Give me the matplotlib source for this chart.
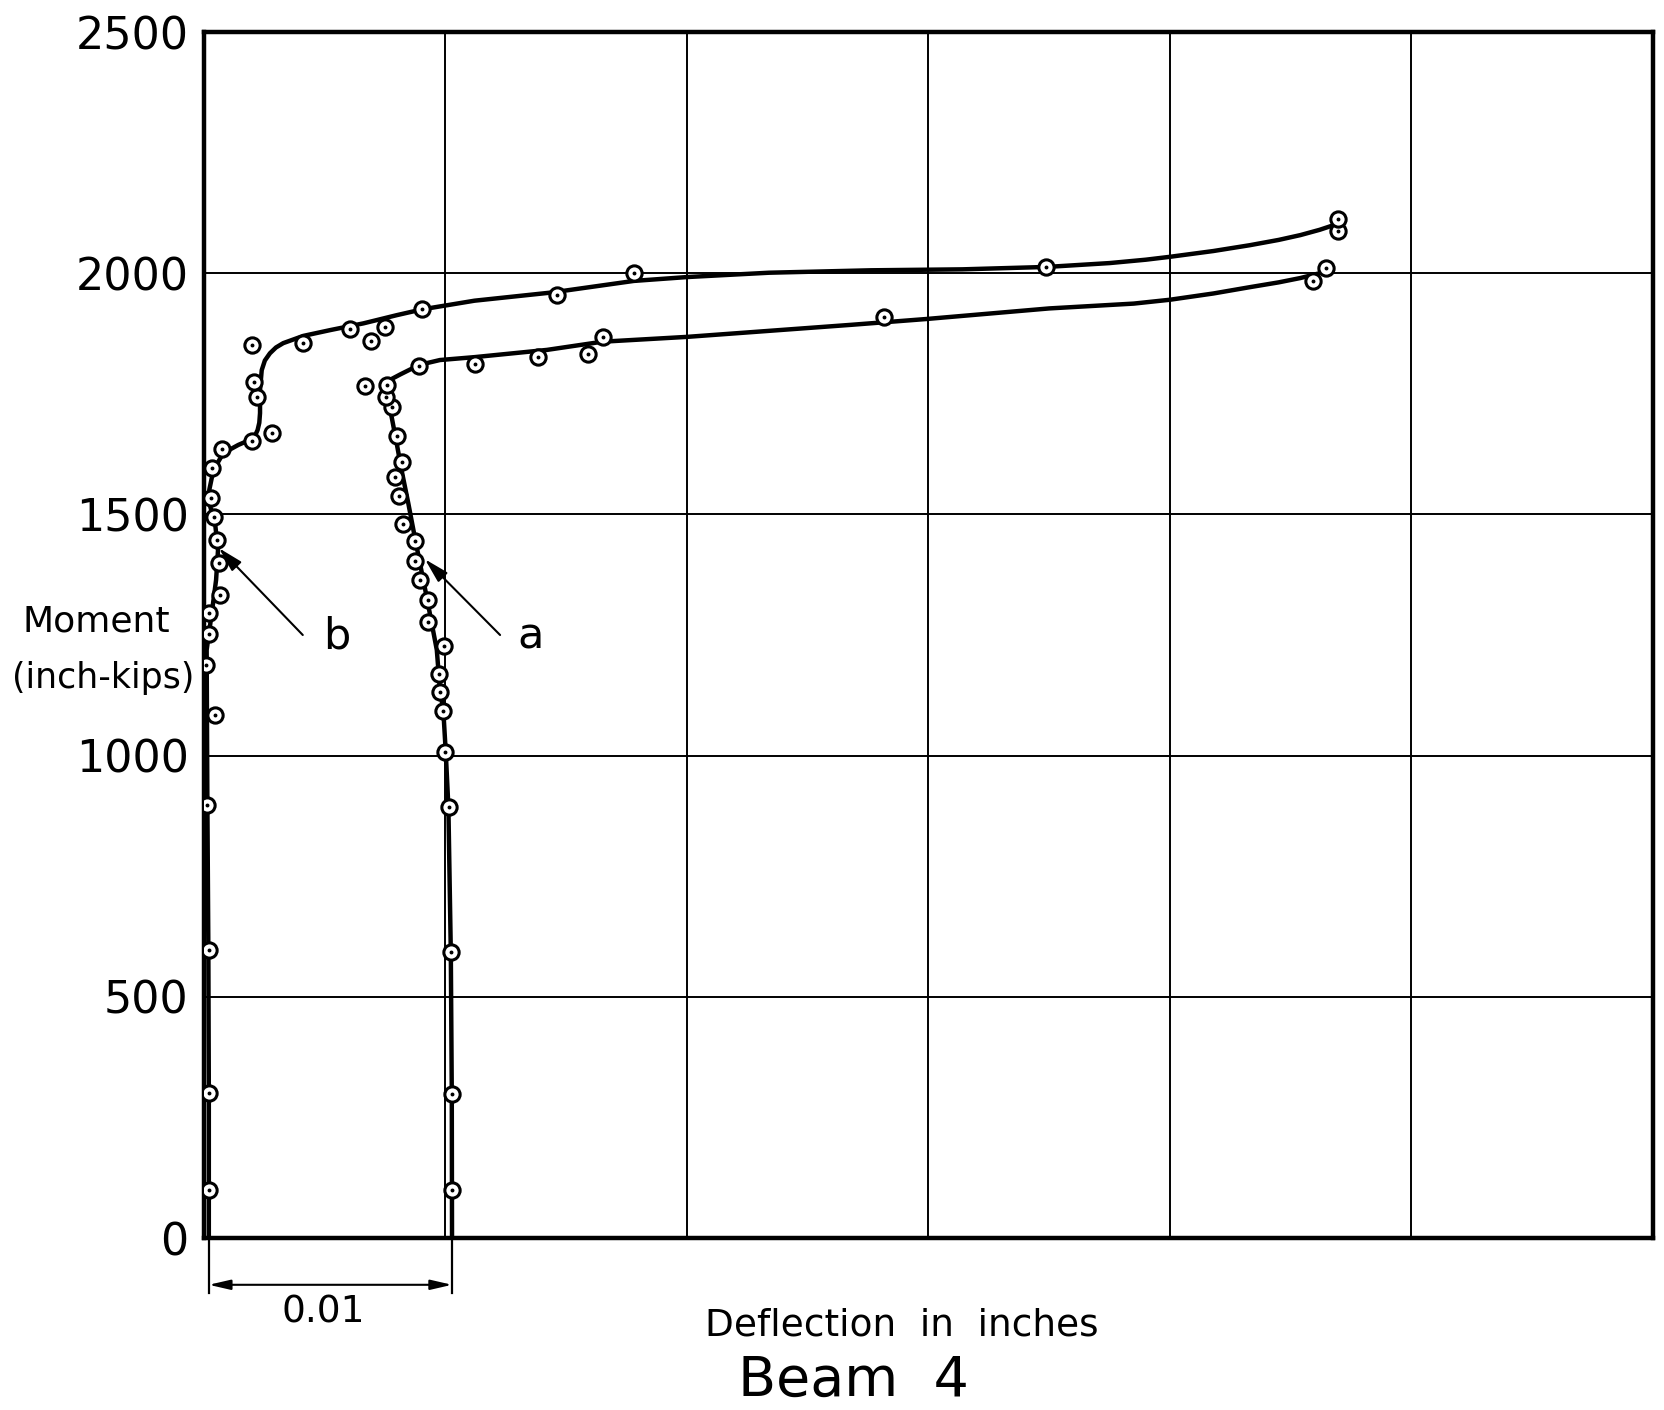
import matplotlib
matplotlib.use("Agg")
import matplotlib.pyplot as plt

# ---------------- data (deflection in inches, moment in inch-kips) ----------------
# curve b : measured points
b_defl = [0.0002, 0.0002, 0.0002, 0.00014, 0.00046, 0.00007, 0.00022, 0.00021, 0.00066,
          0.00062, 0.00055, 0.00041, 0.00028, 0.00032, 0.00073, 0.00199, 0.00283, 0.00221,
          0.00207, 0.00197, 0.00409, 0.00605, 0.0069, 0.0075, 0.00903, 0.0146, 0.0178,
          0.03487, 0.04694, 0.04697]
b_mom = [100, 301, 596, 898, 1084, 1188, 1252, 1296, 1333, 1399, 1447, 1495, 1533, 1596,
         1636, 1652, 1668, 1744, 1775, 1851, 1856, 1884, 1860, 1889, 1926, 1955, 2001,
         2012, 2087, 2113]

# curve a : measured points
a_defl = [0.01028, 0.01026, 0.01022, 0.01016, 0.00998, 0.00988, 0.00977, 0.00975, 0.00995,
          0.00929, 0.00929, 0.00894, 0.00874, 0.00874, 0.00825, 0.00807, 0.00791, 0.00821,
          0.00798, 0.0078, 0.00752, 0.00759, 0.00667, 0.00892, 0.01124, 0.01385, 0.01591,
          0.01651, 0.02817, 0.04594, 0.04645]
a_mom = [100, 298, 592, 893, 1008, 1093, 1132, 1169, 1227, 1276, 1323, 1364, 1403, 1445,
         1481, 1539, 1578, 1609, 1663, 1723, 1744, 1768, 1766, 1808, 1812, 1827, 1833,
         1868, 1910, 1984, 2010]

# faired (hand drawn) curves
b_line_defl = [0.0002, 0.0002, 0.00018, 0.00014, 0.00011, 0.00032, 0.0005, 0.00058, 0.00046,
               0.00022, 0.00022, 0.00039, 0.0008, 0.00142, 0.00197, 0.00212, 0.00222,
               0.00229, 0.00232, 0.00232, 0.00239, 0.00252, 0.00273, 0.00298, 0.00328,
               0.00411, 0.00522, 0.0066, 0.00798, 0.00903, 0.0112, 0.0144, 0.0178, 0.0200,
               0.0234, 0.0276, 0.0314, 0.0349, 0.0375, 0.0390, 0.0400, 0.0418, 0.0433,
               0.0445, 0.0454, 0.0462, 0.0468]
b_line_mom = [0, 300, 600, 900, 1219, 1295, 1364, 1426, 1481, 1523, 1551, 1592, 1627, 1644,
              1656, 1664, 1675, 1690, 1710, 1758, 1799, 1819, 1834, 1846, 1855, 1870, 1882,
              1896, 1913, 1925, 1943, 1960, 1984, 1992, 2001, 2006, 2008, 2013, 2021, 2028,
              2034, 2046, 2058, 2069, 2079, 2090, 2100]

a_line_defl = [0.01027, 0.01026, 0.01022, 0.01012, 0.01001, 0.00991, 0.00977, 0.00964,
               0.00943, 0.00922, 0.00894, 0.00867, 0.00846, 0.00818, 0.00798, 0.00777,
               0.00756, 0.00742, 0.00748, 0.00763, 0.00812, 0.00892, 0.00977, 0.0112,
               0.0142, 0.0165, 0.0200, 0.0268, 0.0299, 0.0350, 0.0385, 0.0400, 0.0418,
               0.0433, 0.0445, 0.0454, 0.0462]
a_line_mom = [0, 300, 592, 893, 1008, 1093, 1136, 1219, 1274, 1329, 1399, 1468, 1523, 1592,
              1647, 1702, 1744, 1765, 1771, 1777, 1790, 1810, 1820, 1826, 1841, 1858, 1868,
              1893, 1905, 1927, 1937, 1945, 1958, 1971, 1981, 1990, 2000]

y_ticks = [0, 500, 1000, 1500, 2000, 2500]
y_tick_labels = ["0", "500", "1000", "1500", "2000", "2500"]
x_grid = [0.0, 0.01, 0.02, 0.03, 0.04, 0.05, 0.06]

# ---------------- figure ----------------
W, H = 1665, 1410
fig = plt.figure(figsize=(W / 100, H / 100), dpi=100)
ax = fig.add_axes([204 / W, 1 - 1238 / H, 1449 / W, 1206 / H])
ax.set_xlim(0, 0.06)
ax.set_ylim(0, 2500)

ax.set_xticks(x_grid)
ax.set_xticklabels([])
ax.set_yticks(y_ticks)
ax.set_yticklabels(y_tick_labels, fontsize=32)
ax.tick_params(length=0, pad=11)
ax.grid(True, color="black", lw=1.4)
ax.set_axisbelow(True)
for s in ax.spines.values():
    s.set_linewidth(3.2)
    s.set_color("black")

line_kw = dict(color="black", lw=3.2, solid_capstyle="round", solid_joinstyle="round",
               zorder=3)
ax.plot(b_line_defl, b_line_mom, **line_kw)
ax.plot(a_line_defl, a_line_mom, **line_kw)

mk = dict(marker="o", ms=11, mfc="white", mec="black", mew=2.2, ls="none", zorder=4)
ax.plot(b_defl, b_mom, **mk)
ax.plot(a_defl, a_mom, **mk)
dot = dict(marker="o", ms=1.8, color="black", ls="none", zorder=5)
ax.plot(b_defl, b_mom, **dot)
ax.plot(a_defl, a_mom, **dot)

# labels a / b with arrows
arw = dict(arrowstyle="-|>,head_length=1.5,head_width=0.4", color="black", lw=1.5,
           shrinkA=0, shrinkB=0)
ax.annotate("", xy=(0.00062, 1430), xytext=(0.00409, 1250), arrowprops=arw, zorder=6)
ax.annotate("", xy=(0.00915, 1407), xytext=(0.01226, 1250), arrowprops=arw, zorder=6)
ax.text(0.00549, 1223, "b", fontsize=31, ha="center", va="baseline")
ax.text(0.01353, 1223, "a", fontsize=31, ha="center", va="baseline")

# dimension 0.01 below axis
x0, x1 = b_line_defl[0], a_line_defl[0]
for xx in (x0, x1):
    ax.plot([xx, xx], [0, -115], color="black", lw=1.6, clip_on=False)
ax.annotate("", xy=(x0, -97), xytext=(x1, -97),
            arrowprops=dict(arrowstyle="<|-|>,head_length=1.3,head_width=0.3",
                            color="black", lw=1.5, shrinkA=0, shrinkB=0),
            annotation_clip=False)
ax.text(0.00493, -155, "0.01", fontsize=27, ha="center", va="center")

# axis titles
fig.text(96 / W, 1 - 632 / H, "Moment", fontsize=26, ha="center", va="baseline")
fig.text(103 / W, 1 - 688 / H, "(inch-kips)", fontsize=25, ha="center", va="baseline")
fig.text(902 / W, 1 - 1335 / H, "Deflection  in  inches", fontsize=27,
         ha="center", va="baseline")
fig.text(853 / W, 1 - 1396 / H, "Beam  4", fontsize=40, ha="center", va="baseline")

fig.savefig("out.png", dpi=100, facecolor="white")
